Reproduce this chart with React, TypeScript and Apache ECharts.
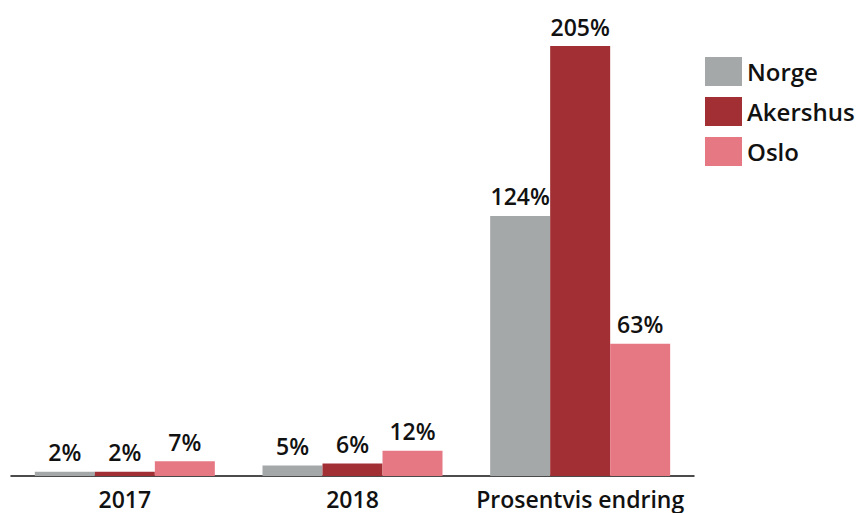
import React, { useEffect, useRef } from "react";
import * as echarts from "echarts";

const categories = ["2017", "2018", "Prosentvis endring"];
const seriesNames = ["Norge", "Akershus", "Oslo"];
const norge = [2, 5, 124];
const akershus = [2, 6, 205];
const oslo = [7, 12, 63];
const colors = ["#a5a8a9", "#a12f34", "#e67883"];

export default function App() {
  const ref = useRef<HTMLDivElement>(null);
  useEffect(() => {
    if (!ref.current) return;
    const chart = echarts.init(ref.current, null, { renderer: "svg" });
    const font = "'Open Sans', sans-serif";
    const data = [norge, akershus, oslo];
    chart.setOption({
      animation: false,
      textStyle: { fontFamily: font },
      grid: { left: 11, right: 165, top: 46, bottom: 37, containLabel: false },
      legend: {
        orient: "vertical",
        left: 700,
        top: 52,
        itemWidth: 37,
        itemHeight: 29,
        itemGap: 11,
        icon: "rect",
        data: seriesNames,
        textStyle: { fontFamily: font, fontSize: 24, fontWeight: 600, color: "#111" },
      },
      xAxis: {
        type: "category",
        data: categories,
        axisLine: { lineStyle: { color: "#111", width: 1.5 } },
        axisTick: { show: false },
        axisLabel: { interval: 0, fontFamily: font, fontSize: 23, fontWeight: 600, color: "#111", margin: 11 },
      },
      yAxis: {
        type: "value",
        min: 0,
        max: 205,
        show: false,
        splitLine: { show: false },
      },
      series: seriesNames.map((name, i) => ({
        name,
        type: "bar",
        data: data[i],
        barWidth: 60,
        barGap: "0%",
        itemStyle: { color: colors[i] },
        label: {
          show: true,
          position: "top",
          distance: 8,
          formatter: "{c}%",
          fontFamily: font,
          fontSize: 23,
          fontWeight: 600,
          color: "#111",
        },
      })),
    });
    return () => chart.dispose();
  }, []);
  return <div ref={ref} style={{ width: 859, height: 513, position: "absolute", left: 0, top: 0 }} />;
}
